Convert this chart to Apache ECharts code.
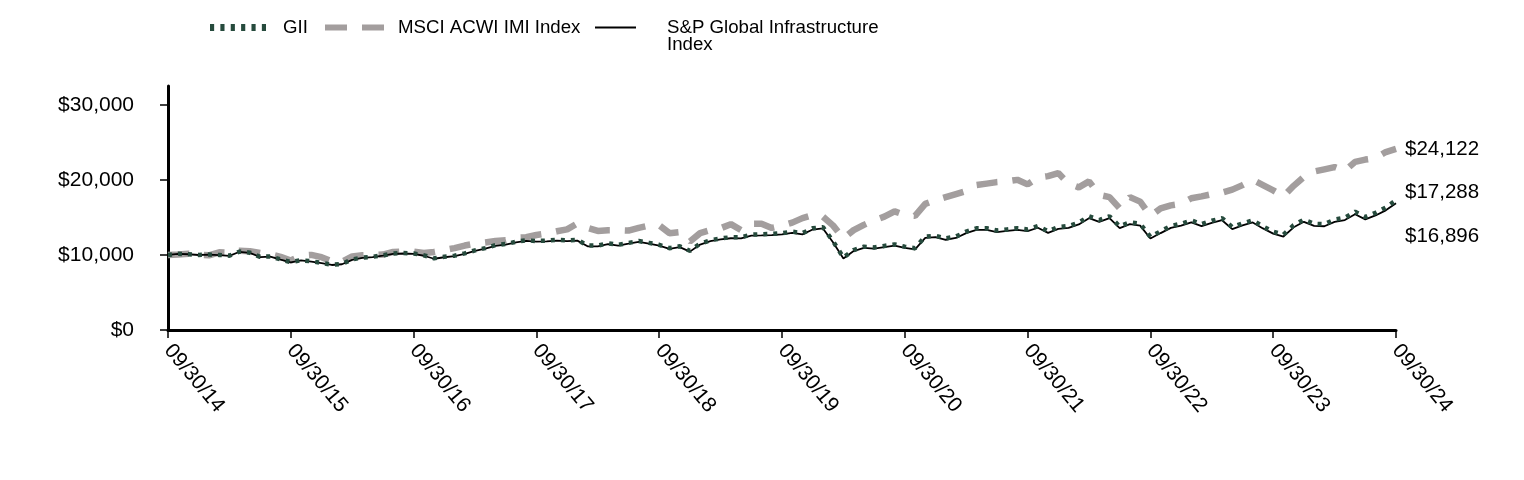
<!DOCTYPE html>
<html>
<head>
<meta charset="utf-8">
<script src="https://cdn.jsdelivr.net/npm/echarts@6/dist/echarts.min.js"></script>
<style>
html,body{margin:0;padding:0;background:#fff;}
#chart{width:1524px;height:480px;}
</style>
</head>
<body>
<div id="chart"></div>
<script>
// Tick labels (yearly) and monthly categories
const tickLabels = ['09/30/14','09/30/15','09/30/16','09/30/17','09/30/18','09/30/19','09/30/20','09/30/21','09/30/22','09/30/23','09/30/24'];
const yTicks = [0, 10000, 20000, 30000];

const seriesNames = ['GII', 'MSCI ACWI IMI Index', 'S&P Global Infrastructure Index'];

const gii = [
  10000, 10150, 10100, 10000, 10050, 10000, 9900, 10450, 10300, 9750, 9800, 9400,
  9050, 9300, 9150, 8950, 8700, 8800, 9400, 9650, 9750, 9950, 10200, 10250,
  10200, 9950, 9550, 9750, 9900, 10200, 10600, 10900, 11300, 11450, 11750, 11950,
  11850, 11900, 12000, 11950, 12000, 11250, 11250, 11550, 11350, 11600, 11850, 11600,
  11350, 10900, 11150, 10550, 11500, 11950, 12200, 12350, 12350, 12700, 12750, 12800,
  12900, 13100, 12900, 13550, 13700, 11800, 9650, 10650, 11100, 11000, 11200, 11400,
  11100, 10900, 12450, 12550, 12200, 12450, 13100, 13550, 13550, 13250, 13400, 13550,
  13400, 13850, 13150, 13700, 13850, 14300, 15150, 14650, 15150, 13800, 14350, 14150,
  12400, 13150, 13850, 14150, 14600, 14100, 14550, 14900, 13700, 14200, 14600, 13800,
  13100, 12700, 13950, 14700, 14150, 14100, 14700, 14950, 15750, 15050, 15600, 16300, 17288
];

const msci = [
  10000, 10050, 10150, 10000, 9950, 10350, 10300, 10550, 10500, 10250, 10100, 9750,
  9250, 9900, 10000, 9700, 9150, 9100, 9800, 9950, 10000, 10050, 10400, 10450,
  10450, 10250, 10400, 10650, 10900, 11250, 11500, 11650, 11850, 11950, 12300, 12350,
  12650, 12850, 13150, 13400, 14200, 13600, 13200, 13300, 13300, 13250, 13600, 13900,
  13950, 12900, 13050, 11800, 12900, 13300, 13550, 14100, 13300, 14150, 14150, 13600,
  13900, 14300, 14900, 15300, 15100, 13900, 12200, 13300, 14000, 14600, 15100, 15800,
  15300, 15200, 16800, 17300, 17700, 18100, 18500, 19300, 19500, 19700, 19800, 20000,
  19400, 20300, 20500, 20900, 19500, 19000, 19800, 18000, 17700, 16200, 17700, 17100,
  15200, 16200, 16600, 16800, 17550, 17800, 18100, 18300, 18700, 19300, 20000, 19300,
  18600, 17800, 19200, 20400, 21100, 21400, 21700, 21200, 22400, 22700, 22900, 23700, 24122
];

const spgi = [
  10000, 10140, 10090, 9990, 10030, 9980, 9880, 10420, 10270, 9720, 9770, 9370,
  9020, 9270, 9110, 8910, 8660, 8760, 9350, 9600, 9700, 9900, 10150, 10190,
  10140, 9890, 9490, 9690, 9840, 10140, 10530, 10830, 11220, 11370, 11670, 11860,
  11760, 11810, 11900, 11850, 11900, 11150, 11150, 11450, 11250, 11490, 11740, 11490,
  11240, 10800, 11040, 10440, 11380, 11830, 12070, 12220, 12210, 12560, 12600, 12650,
  12740, 12940, 12740, 13380, 13530, 11650, 9520, 10510, 10950, 10850, 11050, 11240,
  10940, 10750, 12270, 12370, 12020, 12260, 12900, 13340, 13340, 13040, 13190, 13330,
  13180, 13620, 12930, 13470, 13610, 14060, 14890, 14400, 14890, 13560, 14100, 13900,
  12180, 12910, 13600, 13890, 14330, 13840, 14280, 14620, 13440, 13930, 14320, 13530,
  12840, 12450, 13680, 14410, 13870, 13820, 14400, 14640, 15420, 14730, 15260, 15940, 16896
];

// Build monthly month-end category labels starting at the first tick label (Sep 2014)
function buildMonths(n) {
  const out = [];
  let y = 2014, m = 9;
  for (let k = 0; k < n; k++) {
    const last = new Date(Date.UTC(y, m, 0)).getUTCDate();
    out.push(String(m).padStart(2,'0') + '/' + String(last).padStart(2,'0') + '/' + String(y % 100).padStart(2,'0'));
    m++; if (m > 12) { m = 1; y++; }
  }
  return out;
}
const categories = buildMonths(gii.length);

const FONT = 'Liberation Sans, Arial, sans-serif';
const fmt = v => '$' + Math.round(v).toLocaleString('en-US');

const COL_GII = '#264B3D';
const COL_MSCI = '#A39E9E';
const COL_SP = '#000000';

const chart = echarts.init(document.getElementById('chart'), null, {renderer: 'canvas'});

const legTxt = (pad, extra) => Object.assign({fontFamily: FONT, fontSize: 18.67, color: '#000', padding: [0, 0, 0, pad]}, extra || {});

chart.setOption({
  animation: false,
  backgroundColor: '#fff',
  grid: {left: 168, right: 128, top: 86, bottom: 150, containLabel: false, outerBoundsMode: 'none'},
  legend: [
    {data: [{name: 'GII', icon: 'path://M0,0h4v7h-4z M10,0h4v7h-4z M20,0h4v7h-4z M30,0h4v7h-4z M40,0h4v7h-4z M50,0h4v7h-4z'}],
     left: 205, top: 13, itemWidth: 56, itemHeight: 7, symbolKeepAspect: false, selectedMode: false,
     textStyle: legTxt(12)},
    {data: [{name: 'MSCI ACWI IMI Index', icon: 'path://M0,0h22v6h-22z M37,0h22v6h-22z'}],
     left: 320, top: 13, itemWidth: 59, itemHeight: 6, symbolKeepAspect: false, selectedMode: false,
     textStyle: legTxt(9)},
    {data: [{name: 'S&P Global Infrastructure Index', icon: 'path://M0,0h41v2h-41z'}],
     left: 590, top: -4, itemWidth: 41, itemHeight: 2, symbolKeepAspect: false, selectedMode: false,
     formatter: () => '\nS&P Global Infrastructure\nIndex',
     textStyle: legTxt(26, {lineHeight: 17})}
  ],
  xAxis: {
    type: 'category',
    data: categories,
    boundaryGap: false,
    axisLine: {show: true, lineStyle: {color: '#000', width: 3}},
    axisTick: {show: true, interval: 11, length: 8, lineStyle: {color: '#000', width: 1.5}},
    axisLabel: {interval: 11, rotate: -50, margin: 17, fontFamily: FONT, fontSize: 21, color: '#000'},
    splitLine: {show: false}
  },
  yAxis: {
    type: 'value',
    min: 0,
    max: 32500,
    axisLine: {show: true, lineStyle: {color: '#000', width: 3}},
    axisTick: {show: true, length: 8, customValues: yTicks, lineStyle: {color: '#000', width: 1.5}},
    axisLabel: {customValues: yTicks, formatter: fmt, margin: 34, fontFamily: FONT, fontSize: 21, color: '#000'},
    splitLine: {show: false}
  },
  series: [
    {
      name: 'MSCI ACWI IMI Index', type: 'line', data: msci, symbol: 'none', z: 2,
      lineStyle: {color: COL_MSCI, width: 6.5, type: [21, 15]},
      itemStyle: {color: COL_MSCI},
      endLabel: {show: true, formatter: p => fmt(p.value), distance: 9, offset: [0, 0], fontFamily: FONT, fontSize: 20.5, color: '#000'}
    },
    {
      name: 'S&P Global Infrastructure Index', type: 'line', data: spgi, symbol: 'none', z: 3,
      lineStyle: {color: COL_SP, width: 1.8, type: 'solid'},
      itemStyle: {color: COL_SP},
      endLabel: {show: true, formatter: p => fmt(p.value), distance: 9, offset: [0, 33], fontFamily: FONT, fontSize: 20.5, color: '#000'}
    },
    {
      name: 'GII', type: 'line', data: gii, symbol: 'none', z: 4,
      lineStyle: {color: COL_GII, width: 4.5, type: [4, 6]},
      itemStyle: {color: COL_GII},
      endLabel: {show: true, formatter: p => fmt(p.value), distance: 9, offset: [0, -8], fontFamily: FONT, fontSize: 20.5, color: '#000'}
    }
  ]
});
</script>
</body>
</html>
